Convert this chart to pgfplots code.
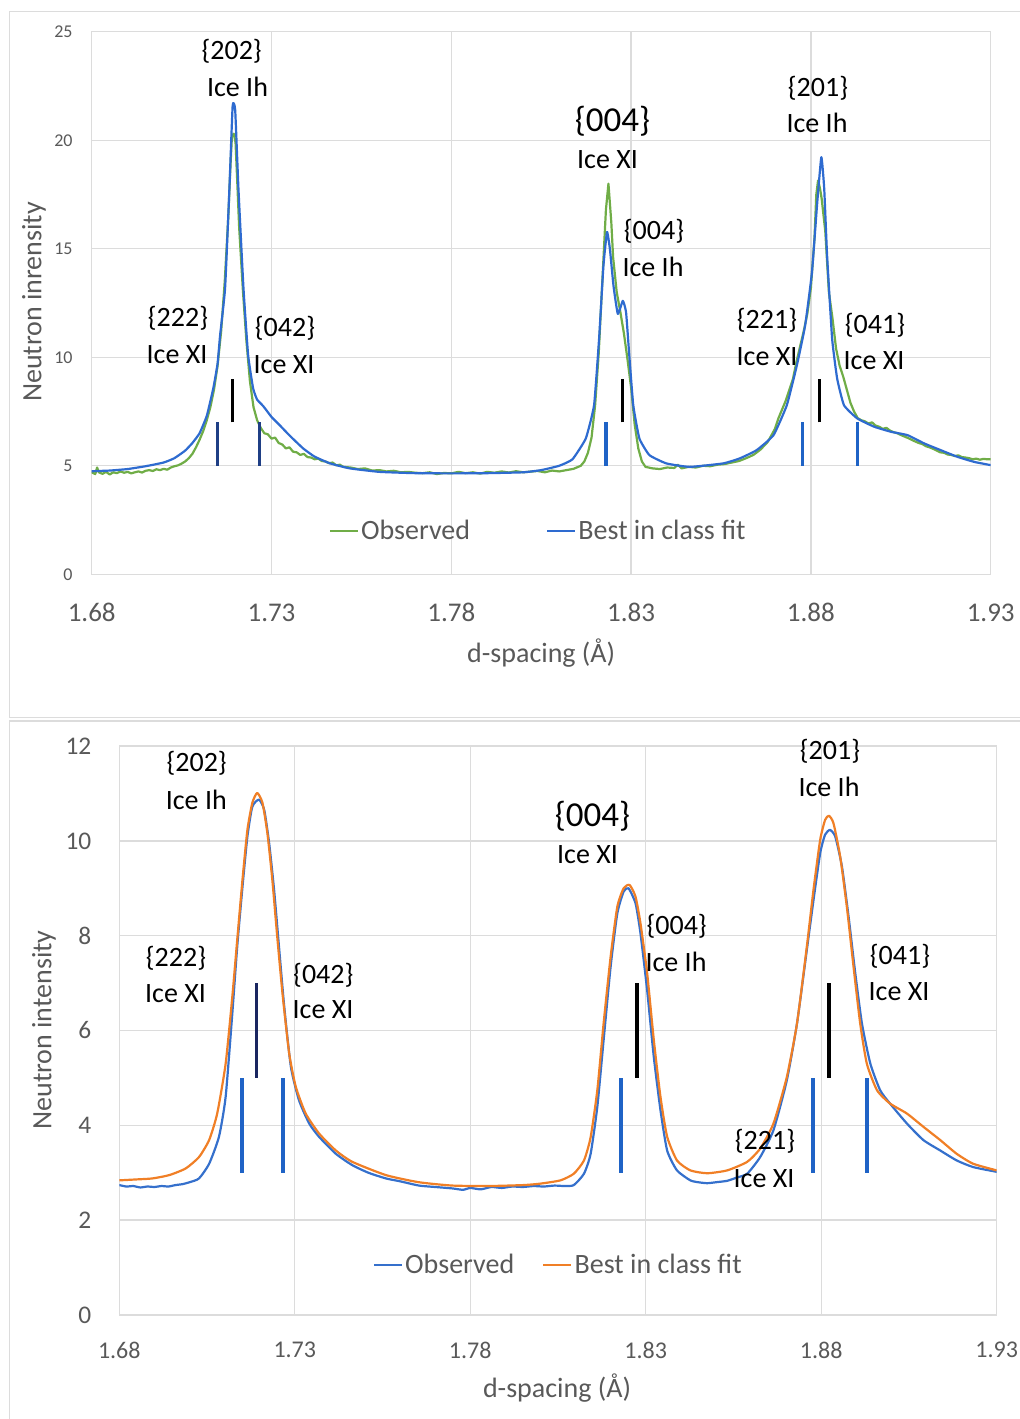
\documentclass[border=0pt]{standalone}
\usepackage{pgfplots}
\pgfplotsset{compat=1.18}
\usepackage{fontspec}
\setmainfont{Carlito}

\definecolor{obsGreen}{HTML}{70AD47}
\definecolor{fitBlue}{HTML}{2E6BD0}
\definecolor{obsBlue}{HTML}{3570CC}
\definecolor{fitOrange}{HTML}{F07F26}
\definecolor{gridGray}{HTML}{DCDCDC}
\definecolor{labelGray}{HTML}{595959}
\definecolor{markBlue}{HTML}{1F63C6}
\definecolor{markNavy}{HTML}{1F3F85}
\definecolor{markDark}{HTML}{1A2660}

\pgfplotsset{
  panel/.style={
    scale only axis,
    xmin=1.68, xmax=1.93,
    xtick={1.68,1.73,1.78,1.83,1.88,1.93},
    xticklabel={\pgfmathprintnumber[fixed,fixed zerofill,precision=2,assume math mode=true]{\tick}},
    yticklabel={\pgfmathprintnumber[assume math mode=true]{\tick}},
    grid=major,
    major grid style={gridGray, line width=0.7pt},
    axis line style={gridGray, line width=0.7pt},
    tick style={draw=none},
    ticklabel style={text=labelGray},
    label style={text=labelGray, font=\fontsize{14}{16}\selectfont},
    legend cell align=left,
    legend image code/.code={\draw[#1, line width=1.2pt] (0pt,0pt) -- (14pt,0pt);},
  },
  curve/.style={line width=1.1pt, line join=round},
  fit/.style={line width=1.1pt, line join=round, smooth, tension=0.35},
  pk/.style={line width=1.6pt, forget plot},
}

\newcommand{\ann}[1]{\fontsize{14}{16}\selectfont #1}
\newcommand{\annbig}[1]{\fontsize{17.5}{19}\selectfont #1}

\begin{document}
\begin{tikzpicture}[x=0.5pt, y=-0.5pt]
\useasboundingbox (0,0) rectangle (1019,1419);
% panel frames
\draw[gridGray, line width=0.75pt] (1030,11.7) -- (9.3,11.7) -- (9.3,717.7) -- (1030,717.7);
\draw[gridGray, line width=0.75pt] (1030,721) -- (9.3,721) -- (9.3,1430);

% ---------- top panel ----------
\begin{axis}[panel,
  at={(45.85pt,-287.15pt)}, anchor=south west,
  width=449.5pt, height=271.3pt,
  ymin=0, ymax=25, ytick={0,5,10,15,20,25},
  xticklabel style={font=\fontsize{13.5}{14}\selectfont, anchor=center, inner sep=0pt, yshift=-19.2pt},
  yticklabel style={font=\fontsize{9}{10}\selectfont, anchor=east, inner sep=0pt, xshift=-9.35pt},
  xlabel={d-spacing (Å)},
  ylabel={Neutron inrensity},
  xlabel style={at={(axis description cs:0.5,-0.145)}, anchor=center},
  ylabel style={at={(axis description cs:-0.0642,0.502)}, anchor=center, rotate=0},
  legend style={at={(axis description cs:0.4965,0.0798)}, anchor=center,
    draw=none, fill=none, legend columns=2, inner sep=0pt,
    font=\fontsize{14}{16}\selectfont, text=labelGray,
    nodes={inner sep=1pt},
    /tikz/every even column/.append style={column sep=37pt}},
]
\addplot[curve, obsGreen] coordinates {
(1.680,4.70) (1.681,4.62) (1.6815,4.92) (1.682,4.70) (1.683,4.63) (1.684,4.72)
(1.685,4.60) (1.686,4.70) (1.687,4.66) (1.688,4.74) (1.689,4.68) (1.690,4.72)
(1.691,4.65) (1.692,4.70) (1.693,4.74) (1.694,4.69) (1.695,4.77) (1.696,4.80)
(1.697,4.76) (1.698,4.84) (1.699,4.80) (1.700,4.86) (1.701,4.82) (1.702,4.92)
(1.703,4.98) (1.704,5.02) (1.705,5.10) (1.706,5.20) (1.707,5.35) (1.708,5.55)
(1.709,5.85) (1.710,6.20) (1.711,6.60) (1.712,7.10) (1.713,7.70) (1.714,8.50)
(1.715,9.60) (1.716,11.2) (1.717,13.5) (1.718,16.5) (1.7185,18.5) (1.719,20.2)
(1.7195,20.3) (1.720,19.9) (1.7205,18.0) (1.721,16.0) (1.722,13.2) (1.723,10.8)
(1.724,8.9) (1.725,7.7) (1.726,7.1) (1.727,6.75) (1.728,6.50) (1.729,6.45)
(1.730,6.25) (1.731,6.30) (1.732,6.05) (1.733,5.98) (1.734,5.80) (1.735,5.85)
(1.736,5.65) (1.737,5.62) (1.738,5.50) (1.739,5.55) (1.740,5.40) (1.741,5.38)
(1.742,5.30) (1.743,5.33) (1.744,5.22) (1.745,5.20) (1.746,5.12) (1.747,5.15)
(1.748,5.02) (1.749,5.05) (1.750,4.95) (1.752,4.92) (1.754,4.85) (1.756,4.88)
(1.758,4.78) (1.760,4.80) (1.762,4.74) (1.764,4.77) (1.766,4.70) (1.768,4.72)
(1.770,4.68) (1.772,4.66) (1.774,4.70) (1.776,4.62) (1.778,4.67) (1.780,4.65)
(1.782,4.72) (1.784,4.66) (1.786,4.70) (1.788,4.64) (1.790,4.72) (1.792,4.68)
(1.794,4.74) (1.796,4.69) (1.798,4.75) (1.800,4.70) (1.802,4.73) (1.804,4.76)
(1.806,4.70) (1.808,4.78) (1.810,4.74) (1.812,4.80) (1.814,4.86) (1.816,5.00)
(1.817,5.20) (1.818,5.60) (1.819,6.30) (1.820,7.80) (1.821,10.2) (1.822,13.5)
(1.823,16.8) (1.8237,18.0) (1.8245,16.2) (1.825,14.6) (1.826,13.0) (1.827,12.1)
(1.828,11.1) (1.829,9.9) (1.830,8.6) (1.831,6.9) (1.832,5.8) (1.833,5.2)
(1.834,4.95) (1.836,4.88) (1.838,4.85) (1.840,4.92) (1.842,4.90) (1.843,5.05)
(1.844,4.88) (1.846,4.95) (1.848,4.92) (1.850,5.00) (1.852,4.98) (1.854,5.05)
(1.856,5.08) (1.858,5.15) (1.860,5.22) (1.862,5.35) (1.864,5.50) (1.866,5.75)
(1.868,6.10) (1.870,6.70) (1.871,7.20) (1.872,7.60) (1.873,8.0) (1.874,8.5)
(1.875,9.0) (1.876,9.8) (1.877,10.5) (1.878,11.2) (1.879,12.0) (1.880,13.2)
(1.881,15.5) (1.8815,17.5) (1.882,18.15) (1.8825,17.8) (1.883,17.3) (1.884,15.8)
(1.885,13.0) (1.886,11.8) (1.887,10.4) (1.888,9.6) (1.889,9.1) (1.890,8.5)
(1.891,7.9) (1.892,7.5) (1.893,7.2) (1.894,7.1) (1.895,7.05) (1.896,6.95)
(1.897,7.0) (1.898,6.85) (1.899,6.80) (1.900,6.70) (1.901,6.75) (1.902,6.62)
(1.903,6.55) (1.904,6.50) (1.905,6.42) (1.906,6.35) (1.907,6.28) (1.908,6.20)
(1.909,6.12) (1.910,6.05) (1.911,6.00) (1.912,5.90) (1.913,5.85) (1.914,5.78)
(1.915,5.70) (1.916,5.62) (1.917,5.60) (1.918,5.52) (1.919,5.50) (1.920,5.45)
(1.921,5.48) (1.922,5.40) (1.923,5.38) (1.924,5.35) (1.925,5.30) (1.926,5.33)
(1.927,5.28) (1.928,5.32) (1.929,5.30) (1.930,5.30)
};
\addlegendentry{Observed}
\addplot[fit, tension=0.25, fitBlue] coordinates {
(1.680,4.75) (1.685,4.78) (1.690,4.85) (1.695,4.98) (1.700,5.15) (1.703,5.35)
(1.706,5.70) (1.708,6.05) (1.710,6.50) (1.712,7.30) (1.7138,8.56) (1.715,9.7)
(1.7157,11.0) (1.7171,13.2) (1.7183,17.8) (1.7192,21.6) (1.7199,21.4) (1.7208,17.8)
(1.7222,13.2) (1.7235,10.1) (1.7249,8.56) (1.7260,8.05) (1.7277,7.75) (1.730,7.25)
(1.7324,6.85) (1.735,6.40) (1.7388,5.80) (1.742,5.42) (1.7463,5.11) (1.7518,4.88)
(1.760,4.72) (1.770,4.66) (1.780,4.65) (1.790,4.66) (1.800,4.70) (1.805,4.80)
(1.810,5.00) (1.8137,5.30) (1.8174,6.26) (1.8197,7.79) (1.8211,10.86) (1.8223,14.2)
(1.8233,15.77) (1.8241,15.0) (1.8251,13.3) (1.8263,12.0) (1.8277,12.6) (1.8286,12.07)
(1.8295,10.08) (1.8306,7.79) (1.8323,6.26) (1.8351,5.49) (1.8398,5.11) (1.8463,4.95)
(1.8556,5.11) (1.8602,5.34) (1.8649,5.72) (1.8696,6.41) (1.8733,7.79) (1.8761,9.63)
(1.8784,11.47) (1.8803,13.93) (1.8817,17.0) (1.8829,19.22) (1.8837,17.77) (1.8845,14.7)
(1.8859,10.86) (1.8873,9.02) (1.8892,7.79) (1.8929,7.18) (1.8976,6.80) (1.9022,6.57)
(1.9069,6.41) (1.9115,6.03) (1.9161,5.72) (1.9208,5.41) (1.9254,5.18) (1.930,5.03)
};
\addlegendentry{Best in class fit}
% reflection markers
\addplot[pk, markNavy] coordinates {(1.7150,5) (1.7150,7)};
\addplot[pk, markNavy] coordinates {(1.7266,5) (1.7266,7)};
\addplot[pk, black] coordinates {(1.7192,7) (1.7192,9)};
\addplot[pk, markBlue] coordinates {(1.8230,5) (1.8230,7)};
\addplot[pk, black] coordinates {(1.8277,7) (1.8277,9)};
\addplot[pk, markBlue] coordinates {(1.8777,5) (1.8777,7)};
\addplot[pk, black] coordinates {(1.8823,7) (1.8823,9)};
\addplot[pk, markBlue] coordinates {(1.8930,5) (1.8930,7)};
\end{axis}

% ---------- bottom panel ----------
\begin{axis}[panel,
  at={(59.65pt,-657.5pt)}, anchor=south west,
  width=438.7pt, height=284.5pt,
  ymin=0, ymax=12, ytick={0,2,4,6,8,10,12},
  xticklabel style={font=\fontsize{12}{13}\selectfont, anchor=center, inner sep=0pt, yshift=-17.5pt},
  yticklabel style={font=\fontsize{12.7}{13}\selectfont, anchor=east, inner sep=0pt, xshift=-13.8pt},
  xlabel={d-spacing (Å)},
  ylabel={Neutron intensity},
  xlabel style={at={(axis description cs:0.4989,-0.128)}, anchor=center},
  ylabel style={at={(axis description cs:-0.0858,0.5009)}, anchor=center, rotate=0},
  legend style={at={(axis description cs:0.5003,0.0879)}, anchor=center,
    draw=none, fill=none, legend columns=2, inner sep=0pt,
    font=\fontsize{14}{16}\selectfont, text=labelGray,
    nodes={inner sep=1pt},
    /tikz/every even column/.append style={column sep=13pt}},
]
\addplot[fit, obsBlue] coordinates {
(1.680,2.74) (1.682,2.71) (1.684,2.72) (1.686,2.69) (1.688,2.71) (1.690,2.70)
(1.692,2.72) (1.694,2.71) (1.696,2.74) (1.698,2.76) (1.700,2.80) (1.7027,2.88)
(1.7056,3.19) (1.7084,3.76) (1.7103,4.60) (1.7122,6.36) (1.7136,7.77) (1.7151,9.03)
(1.7165,10.09) (1.7179,10.72) (1.7198,10.87) (1.7213,10.65) (1.7227,9.95) (1.7241,8.97)
(1.7255,7.77) (1.7270,6.50) (1.7289,5.23) (1.7312,4.53) (1.7341,4.04) (1.7369,3.76)
(1.7417,3.40) (1.7464,3.16) (1.751,3.00) (1.7560,2.88) (1.760,2.82) (1.7654,2.73)
(1.770,2.70) (1.7749,2.67) (1.778,2.64) (1.780,2.68) (1.783,2.65) (1.786,2.70)
(1.789,2.68) (1.792,2.71) (1.795,2.70) (1.798,2.72) (1.801,2.71) (1.804,2.73)
(1.807,2.72) (1.8095,2.74) (1.8124,2.98) (1.8143,3.40) (1.8162,4.39) (1.8180,5.80)
(1.8200,7.35) (1.8219,8.47) (1.8237,8.93) (1.8251,9.0) (1.8271,8.68) (1.8285,8.05)
(1.8304,6.85) (1.8323,5.44) (1.8342,4.32) (1.8361,3.47) (1.8389,3.05) (1.8427,2.84)
(1.845,2.80) (1.8475,2.78) (1.850,2.80) (1.8532,2.83) (1.856,2.90) (1.8589,2.98)
(1.8626,3.33) (1.8664,3.90) (1.8702,4.95) (1.8731,6.15) (1.8759,7.70) (1.8778,8.75)
(1.8797,9.74) (1.8811,10.13) (1.8825,10.23) (1.8840,10.09) (1.8859,9.46) (1.8878,8.40)
(1.8897,7.21) (1.8916,6.15) (1.8940,5.30) (1.8968,4.74) (1.8996,4.46) (1.9044,4.04)
(1.9091,3.69) (1.9139,3.47) (1.9186,3.26) (1.9233,3.12) (1.930,3.02)
};
\addlegendentry{Observed}
\addplot[fit, fitOrange] coordinates {
(1.680,2.84) (1.685,2.86) (1.6894,2.88) (1.6942,2.95) (1.6989,3.09) (1.7027,3.33)
(1.7056,3.69) (1.7079,4.25) (1.7103,5.30) (1.7122,6.71) (1.7136,7.91) (1.7151,9.18)
(1.7165,10.23) (1.7179,10.80) (1.7193,11.01) (1.7208,10.80) (1.7222,10.16) (1.7236,9.18)
(1.7250,7.98) (1.7265,6.78) (1.7284,5.52) (1.7303,4.81) (1.7331,4.25) (1.7369,3.83)
(1.7417,3.47) (1.7464,3.23) (1.7560,2.95) (1.7654,2.80) (1.7749,2.73) (1.785,2.72)
(1.795,2.74) (1.7999,2.77) (1.8057,2.84) (1.8095,2.98) (1.8124,3.26) (1.8143,3.75)
(1.8162,4.74) (1.8180,6.15) (1.8200,7.56) (1.8219,8.61) (1.8237,9.0) (1.8254,9.07)
(1.8271,8.82) (1.8285,8.26) (1.8304,7.21) (1.8323,5.80) (1.8342,4.60) (1.8361,3.76)
(1.8389,3.26) (1.8427,3.05) (1.8475,2.99) (1.8532,3.05) (1.8589,3.23) (1.8626,3.51)
(1.8664,4.04) (1.8702,5.02) (1.8731,6.15) (1.8759,7.77) (1.8778,8.97) (1.8797,10.02)
(1.8811,10.44) (1.8822,10.53) (1.8835,10.37) (1.8854,9.67) (1.8873,8.61) (1.8892,7.35)
(1.8911,6.15) (1.8930,5.30) (1.8959,4.74) (1.8996,4.46) (1.9044,4.25) (1.9091,3.97)
(1.9139,3.69) (1.9186,3.40) (1.9233,3.19) (1.930,3.05)
};
\addlegendentry{Best in class fit}
\addplot[pk, markBlue, line width=2pt] coordinates {(1.7150,3) (1.7150,5)};
\addplot[pk, markBlue, line width=2pt] coordinates {(1.7266,3) (1.7266,5)};
\addplot[pk, markDark] coordinates {(1.7191,5) (1.7191,7)};
\addplot[pk, markBlue, line width=2pt] coordinates {(1.8229,3) (1.8229,5)};
\addplot[pk, black, line width=2pt] coordinates {(1.8276,5) (1.8276,7)};
\addplot[pk, markBlue, line width=2pt] coordinates {(1.8777,3) (1.8777,5)};
\addplot[pk, black, line width=2pt] coordinates {(1.8823,5) (1.8823,7)};
\addplot[pk, markBlue, line width=2pt] coordinates {(1.8930,3) (1.8930,5)};
\end{axis}

% ---------- annotations, top ----------
\node at (231.7,51.7) {\ann{\{202\}}};
\node at (237.5,86.7) {\ann{Ice Ih}};
\node at (178,318) {\ann{\{222\}}};
\node at (177,355) {\ann{Ice XI}};
\node at (285,328) {\ann{\{042\}}};
\node at (284,365) {\ann{Ice XI}};
\node at (612.5,121.7) {\annbig{\{004\}}};
\node at (607.5,160) {\ann{Ice XI}};
\node at (654,231.7) {\ann{\{004\}}};
\node at (653,266.7) {\ann{Ice Ih}};
\node at (818,88.3) {\ann{\{201\}}};
\node at (817,123.3) {\ann{Ice Ih}};
\node at (767,320) {\ann{\{221\}}};
\node at (767,356.7) {\ann{Ice XI}};
\node at (875,325) {\ann{\{041\}}};
\node at (874,361) {\ann{Ice XI}};

% ---------- annotations, bottom ----------
\node at (196.7,763.3) {\ann{\{202\}}};
\node at (196.3,800) {\ann{Ice Ih}};
\node at (176,958.3) {\ann{\{222\}}};
\node at (175.5,993.3) {\ann{Ice XI}};
\node at (323.3,975) {\ann{\{042\}}};
\node at (323,1010) {\ann{Ice XI}};
\node at (592.5,816.7) {\annbig{\{004\}}};
\node at (587.5,855) {\ann{Ice XI}};
\node at (676.7,926.7) {\ann{\{004\}}};
\node at (676,961.7) {\ann{Ice Ih}};
\node at (830,751.7) {\ann{\{201\}}};
\node at (829,786.7) {\ann{Ice Ih}};
\node at (900,956.7) {\ann{\{041\}}};
\node at (899,991.7) {\ann{Ice XI}};
\node at (765,1141.7) {\ann{\{221\}}};
\node at (764,1178.3) {\ann{Ice XI}};
\end{tikzpicture}
\end{document}
